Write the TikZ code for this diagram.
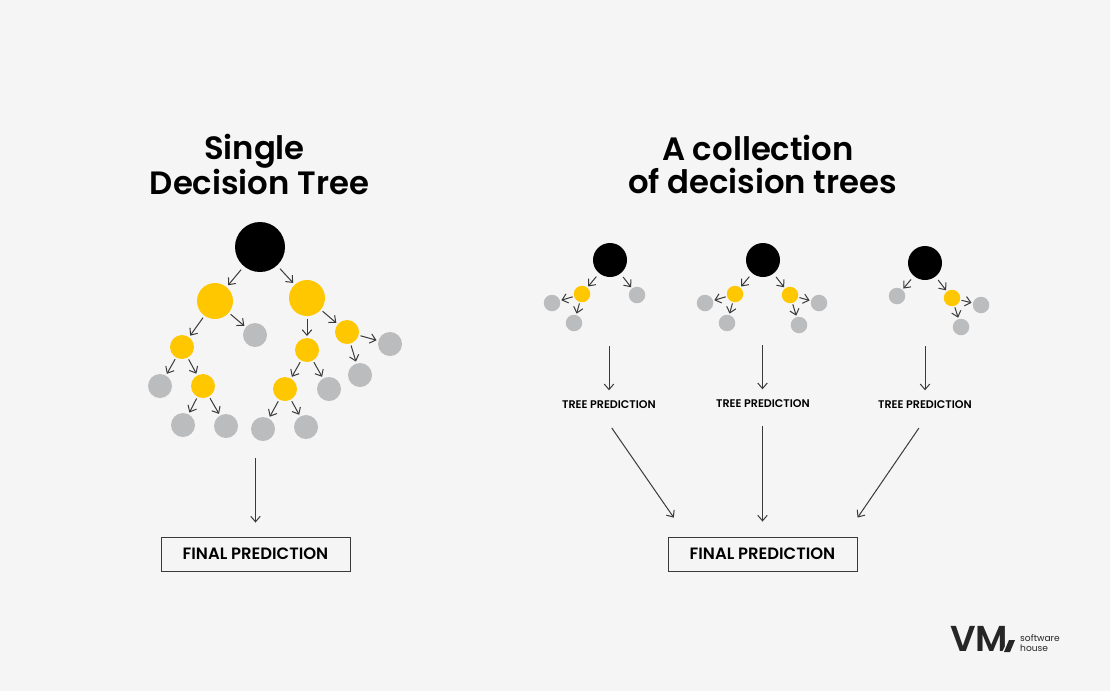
\documentclass[tikz,border=0pt]{standalone}
\usepackage{fontspec}
\setmainfont{Poppins}[BoldFont={Poppins SemiBold}]
\usetikzlibrary{arrows.meta, positioning}
\definecolor{pagegray}{HTML}{F5F5F5}
\definecolor{treeyellow}{HTML}{FFC700}
\definecolor{leafgray}{HTML}{BBBCBE}
\definecolor{inkgray}{HTML}{3A3A3A}
\tikzstyle{dot} = [circle, inner sep=0pt, outer sep=2pt]
\tikzstyle{rootbig} = [dot, outer sep=4.5pt, fill=black, minimum size=50pt]
\tikzstyle{rootsmall} = [dot, outer sep=4.5pt, fill=black, minimum size=34pt]
\tikzstyle{yellowbig} = [dot, outer sep=2.5pt, fill=treeyellow, minimum size=36pt]
\tikzstyle{yellowmid} = [dot, fill=treeyellow, minimum size=24pt]
\tikzstyle{yellowsmall} = [dot, outer sep=1.5pt, fill=treeyellow, minimum size=16.5pt]
\tikzstyle{leafmid} = [dot, fill=leafgray, minimum size=24pt]
\tikzstyle{leafsmall} = [dot, outer sep=1.5pt, fill=leafgray, minimum size=16.5pt]
\tikzstyle{title} = [align=center, font=\fontsize{32.3}{33.5}\selectfont\bfseries]
\tikzstyle{treelabel} = [inner sep=0pt, minimum height=12pt, font=\fontsize{11.1}{12}\selectfont\bfseries]
\tikzstyle{finalbox} = [rectangle, draw=inkgray, line width=0.9pt, minimum width=189pt, minimum height=34pt, font=\fontsize{16.4}{18}\selectfont\bfseries]
\tikzstyle{arrow} = [draw=inkgray, line width=1pt, -{Straight Barb[length=5.5pt, width=9.5pt]}]

\begin{document}
\begin{tikzpicture}[x=1pt, y=-1pt, on grid]

    \fill [pagegray] (0,0) rectangle (1110,691);

    % Titles
    \node (titleleft) [title] at (259.5,164.5) {Single\hspace*{10pt}\\Decision Tree};
    \node (titleright) [title] at (762.5,164.5) {A collection\hspace*{9pt}\\of decision trees};

    % Single tree
    \node (root) [rootbig] at (260,247) {};
    \node (nl) [yellowbig, below left=54pt and 45pt of root] {};
    \node (nr) [yellowbig, below right=51pt and 47pt of root] {};
    \node (nlg) [leafmid, below right=34pt and 40pt of nl] {};
    \node (nll) [yellowmid, below left=46pt and 33pt of nl] {};
    \node (nllg) [leafmid, below left=39pt and 22pt of nll] {};
    \node (nlr) [yellowmid, below right=39pt and 21pt of nll] {};
    \node (nlra) [leafmid, below left=39pt and 20pt of nlr] {};
    \node (nlrb) [leafmid, below right=40pt and 23pt of nlr] {};
    \node (nrm) [yellowmid, below=52pt of nr] {};
    \node (nrr) [yellowmid, below right=34pt and 40pt of nr] {};
    \node (nrra) [leafmid, below right=12pt and 43pt of nrr] {};
    \node (nrrb) [leafmid, below right=43pt and 13pt of nrr] {};
    \node (nrmg) [leafmid, below right=39pt and 22pt of nrm] {};
    \node (nrml) [yellowmid, below left=39pt and 22pt of nrm] {};
    \node (nrmla) [leafmid, below left=40pt and 22pt of nrml] {};
    \node (nrmlb) [leafmid, below right=38pt and 21pt of nrml] {};

    % First small tree
    \node (aroot) [rootsmall] at (610,260) {};
    \node (ay) [yellowsmall, below left=34pt and 28pt of aroot] {};
    \node (aya) [leafsmall, below left=9pt and 30pt of ay] {};
    \node (ayb) [leafsmall, below left=29pt and 8pt of ay] {};
    \node (ag) [leafsmall, below right=35pt and 27pt of aroot] {};

    % Second small tree
    \node (broot) [rootsmall] at (763,260) {};
    \node (by) [yellowsmall, below left=34pt and 28pt of broot] {};
    \node (bya) [leafsmall, below left=9pt and 30pt of by] {};
    \node (byb) [leafsmall, below left=29pt and 8pt of by] {};
    \node (bz) [yellowsmall, below right=35pt and 27pt of broot] {};
    \node (bza) [leafsmall, below right=8pt and 29pt of bz] {};
    \node (bzb) [leafsmall, below right=30pt and 9pt of bz] {};

    % Third small tree
    \node (croot) [rootsmall] at (925,263) {};
    \node (cg) [leafsmall, below left=33pt and 28pt of croot] {};
    \node (cz) [yellowsmall, below right=35pt and 27pt of croot] {};
    \node (cza) [leafsmall, below right=7pt and 29pt of cz] {};
    \node (czb) [leafsmall, below right=29pt and 9pt of cz] {};

    % Labels and boxes
    \node (predone) [treelabel] at (609,404.5) {TREE PREDICTION};
    \node (predtwo) [treelabel] at (763,403.5) {TREE PREDICTION};
    \node (predthree) [treelabel] at (925,404.5) {TREE PREDICTION};
    \node (finalleft) [finalbox] at (255.5,554) {FINAL PREDICTION};
    \node (finalright) [finalbox] at (762.5,554) {FINAL PREDICTION};

    % Free ends
    \coordinate (outleft) at (255.5,458);
    \coordinate (outone) at (609,346);
    \coordinate (outtwo) at (762.5,345);
    \coordinate (outthree) at (925,346);

    % Arrows
    \draw [arrow] (root) -- (nl);
    \draw [arrow] (root) -- (nr);
    \draw [arrow] (nl) -- (nlg);
    \draw [arrow] (nl) -- (nll);
    \draw [arrow] (nll) -- (nllg);
    \draw [arrow] (nll) -- (nlr);
    \draw [arrow] (nlr) -- (nlra);
    \draw [arrow] (nlr) -- (nlrb);
    \draw [arrow] (nr) -- (nrm);
    \draw [arrow] (nr) -- (nrr);
    \draw [arrow] (nrr) -- (nrra);
    \draw [arrow] (nrr) -- (nrrb);
    \draw [arrow] (nrm) -- (nrmg);
    \draw [arrow] (nrm) -- (nrml);
    \draw [arrow] (nrml) -- (nrmla);
    \draw [arrow] (nrml) -- (nrmlb);

    \draw [arrow] (aroot) -- (ay);
    \draw [arrow] (aroot) -- (ag);
    \draw [arrow] (ay) -- (aya);
    \draw [arrow] (ay) -- (ayb);

    \draw [arrow] (broot) -- (by);
    \draw [arrow] (broot) -- (bz);
    \draw [arrow] (by) -- (bya);
    \draw [arrow] (by) -- (byb);
    \draw [arrow] (bz) -- (bza);
    \draw [arrow] (bz) -- (bzb);

    \draw [arrow] (croot) -- (cg);
    \draw [arrow] (croot) -- (cz);
    \draw [arrow] (cz) -- (cza);
    \draw [arrow] (cz) -- (czb);

    \draw [arrow, shorten >=14pt] (outleft) -- (finalleft.north);
    \draw [arrow, shorten >=8pt] (outone) -- (predone.north);
    \draw [arrow, shorten >=8pt] (outtwo) -- (predtwo.north -| outtwo);
    \draw [arrow, shorten >=8pt] (outthree) -- (predthree.north);

    \draw [arrow, shorten <=21pt, shorten >=23pt] (predone.214) -- (finalright.167);
    \draw [arrow, shorten <=16pt, shorten >=15pt] (predtwo.south -| finalright.north) -- (finalright.north);
    \draw [arrow, shorten <=21pt, shorten >=23pt] (predthree.313) -- (finalright.12);

    % Logo
    \node (logo) [inner sep=0pt, anchor=west, font=\fontsize{36}{36}\selectfont\bfseries, text=black!85] at (950,639) {VM};
    \fill [pagegray] (1002,652.5) -- (1006,652.5) -- (1012,640) -- (1008,640) -- cycle;
    \fill [black!85] (1004,652) -- (1010,652) -- (1015,640) -- (1009,640) -- cycle;
    \node (logotext) [inner sep=0pt, align=left, anchor=west, text=black!85, font=\fontsize{9.1}{10}\selectfont] at (1020,643) {software\\house};

\end{tikzpicture}
\end{document}
